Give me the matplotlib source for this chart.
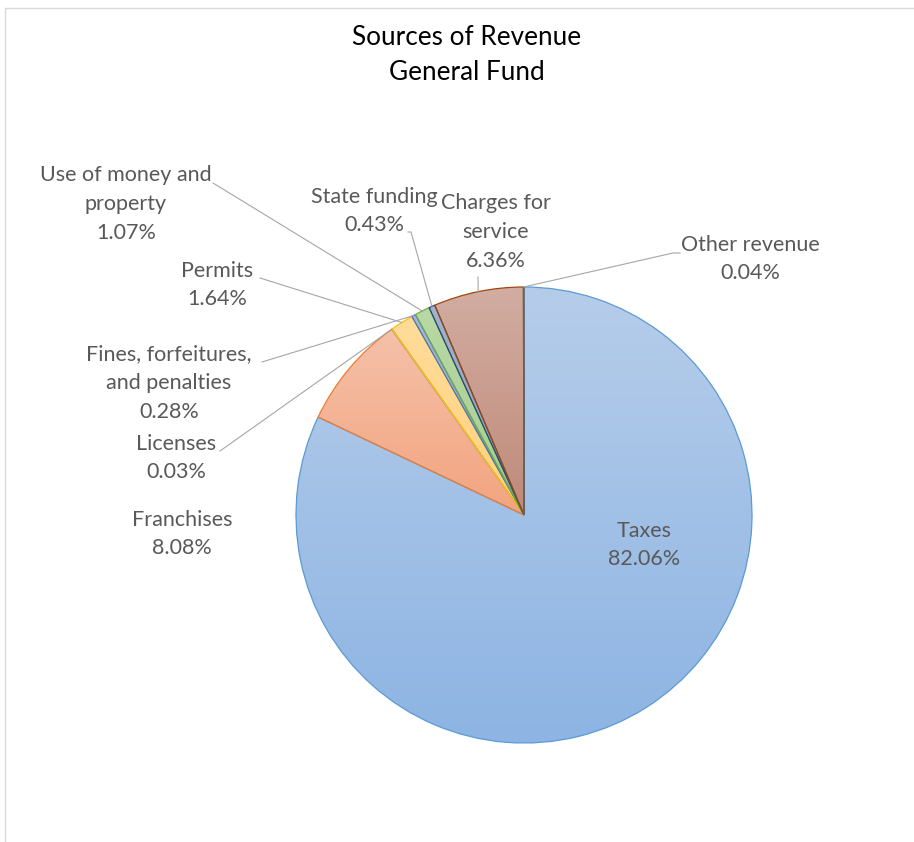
import matplotlib.pyplot as plt
from matplotlib.colors import LinearSegmentedColormap
from matplotlib.patches import Rectangle
import numpy as np

plt.rcParams['font.family'] = ['Lato', 'DejaVu Sans']

# revenue shares (percent), clockwise from 12 o'clock
sources = ['Taxes', 'Franchises', 'Licenses', 'Permits',
           'Fines, forfeitures,\nand penalties', 'Use of money and\nproperty',
           'State funding', 'Charges for\nservice', 'Other revenue']
shares = [82.06, 8.08, 0.03, 1.64, 0.28, 1.07, 0.43, 6.36, 0.04]

# gradient (top, bottom) and outline for each slice
tops = ['#b6cdea', '#f5c1a9', '#d2d2d2', '#ffdc9c', '#a3b8e2', '#b9d8a6', '#a4b3cc', '#d2ada2', '#a8a8a8']
bottoms = ['#8db4e3', '#f3a47f', '#bdbdbd', '#ffd27a', '#8ba6db', '#a6ce8b', '#8d9fbd', '#bf8a79', '#8f8f8f']
edges = ['#5b9bd5', '#ed7d31', '#a5a5a5', '#ffc000', '#4472c4', '#70ad47', '#264478', '#9e480e', '#636363']

W, H = 914, 842
fig = plt.figure(figsize=(W / 100, H / 100), dpi=100)
ax = fig.add_axes([0, 0, 1, 1])

cx, cy, r = 524, H - 515, 228
wedges, _ = ax.pie(shares, startangle=90, counterclock=False,
                   center=(cx, cy), radius=r, frame=True,
                   wedgeprops=dict(linewidth=0.9))

for w, c0, c1, ec in zip(wedges, tops, bottoms, edges):
    w.set_facecolor('none')
    w.set_edgecolor(ec)
    w.set_zorder(3)
    bb = w.get_path().get_extents(w.get_patch_transform())
    cmap = LinearSegmentedColormap.from_list('g', [c1, c0])
    grad = np.linspace(0, 1, 256).reshape(-1, 1)
    im = ax.imshow(grad, cmap=cmap, origin='lower', aspect='auto',
                   extent=(bb.x0, bb.x1, bb.y0, bb.y1), zorder=2)
    im.set_clip_path(w)

# label centres and leader-line start points, in pixels from top-left
label_pos = [(644, 545), (182, 534), (176, 458), (217, 285), (169, 383),
             (126, 204), (374, 211), (496, 232), (750, 259)]
leader_from = [None, None, (220, 451), (260, 278), (262, 362),
               (213, 183), (408, 232), (478, 277), (673, 253)]

for w, name, pct, (lx, ly), lf in zip(wedges, sources, shares, label_pos, leader_from):
    ax.text(lx, H - ly, f'{name}\n{pct:.2f}%', ha='center', va='center',
            fontsize=15.5, color='#595959', linespacing=1.55, zorder=5)
    if lf is None:
        continue
    mid = np.deg2rad((w.theta1 + w.theta2) / 2)
    ex, ey = cx + r * np.cos(mid), cy + r * np.sin(mid)
    x0, y0 = lf[0], H - lf[1]
    if name == 'State funding':
        ax.plot([x0, x0 + 3, ex], [y0, y0, ey], color='#a6a6a6', lw=0.8, zorder=4)
    elif name == 'Other revenue':
        ax.plot([x0 + 7, x0, ex], [y0, y0, ey], color='#a6a6a6', lw=0.8, zorder=4)
    else:
        ax.plot([x0, ex], [y0, ey], color='#a6a6a6', lw=0.8, zorder=4)

ax.text(467, H - 55, 'Sources of Revenue\nGeneral Fund', ha='center', va='center',
        fontsize=18.8, color='#000000', linespacing=1.47)

# chart-area border
fig.patches.append(Rectangle((5 / W, -0.1), 1.2, (H - 8) / H + 0.1, transform=fig.transFigure,
                             fill=False, edgecolor='#d9d9d9', lw=1))

ax.set_xlim(0, W)
ax.set_ylim(0, H)
ax.set_aspect('auto')
ax.axis('off')

fig.savefig('out.png', dpi=100)
